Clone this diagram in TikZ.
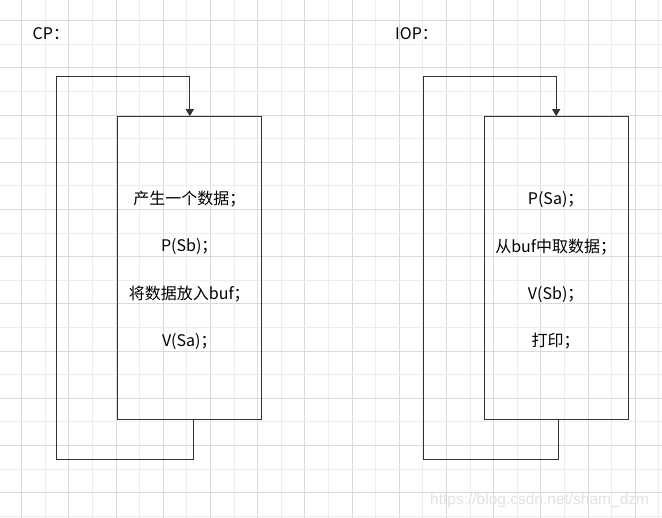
\documentclass[tikz,border=0pt]{standalone}
\usepackage{fontspec}
\setmainfont{Noto Sans CJK SC}
\newfontfamily\wmfont{Liberation Sans}
\usetikzlibrary{arrows.meta}
\definecolor{ink}{HTML}{333333}
\definecolor{gridA}{HTML}{DADADA}
\definecolor{gridB}{HTML}{EDEDED}
\definecolor{wm}{HTML}{E2E2E2}
\begin{document}
\begin{tikzpicture}[x=1pt,y=-1pt,
  procbox/.style={draw=ink,line width=1pt,minimum width=144pt,minimum height=303pt,inner sep=0pt,anchor=north west},
  txt/.style={font=\fontsize{16}{19}\selectfont,text=black,inner sep=0pt},
  flow/.style={draw=ink,line width=1pt,-{Triangle[width=8pt,length=7pt]}},
  gridmaj/.style={gridA,line width=0.9pt},
  gridmin/.style={gridB,line width=0.9pt}]
\useasboundingbox (0,0) rectangle (662,518);
\fill[white] (0,0) rectangle (662,518);
% grid
\foreach \i in {0,...,27}{
  \pgfmathsetmacro\gx{21.7+23.6*\i}
  \pgfmathtruncatemacro\gpar{mod(\i,2)}
  \ifnum\gpar=0 \draw[gridmaj] (\gx,0) -- (\gx,518); \else \draw[gridmin] (\gx,0) -- (\gx,518); \fi
}
\foreach \j in {0,...,21}{
  \pgfmathsetmacro\gy{20.7+23.6*\j}
  \pgfmathtruncatemacro\gpar{mod(\j,2)}
  \ifnum\gpar=0 \draw[gridmaj] (0,\gy) -- (662,\gy); \else \draw[gridmin] (0,\gy) -- (662,\gy); \fi
}
% titles
\node[txt,anchor=west] (cpt) at (32.5,34) {CP：};
\node[txt,anchor=west] (iopt) at (395,34) {IOP：};
% boxes
\node[procbox] (cp) at (117.3,116.2) {};
\node[procbox] (iop) at (483.7,116.2) {};
% texts in CP
\node[txt] (c1) at (189.3,199.5) {产生一个数据；};
\node[txt] (c2) at (189.3,247) {P(Sb)；};
\node[txt] (c3) at (189.3,294.5) {将数据放入buf；};
\node[txt] (c4) at (189.3,341.5) {V(Sa)；};
% texts in IOP
\node[txt] (i1) at (555.7,199.5) {P(Sa)；};
\node[txt] (i2) at (555.7,247) {从buf中取数据；};
\node[txt] (i3) at (555.7,294.5) {V(Sb)；};
\node[txt] (i4) at (555.7,341.5) {打印；};
% loops
\coordinate (cpOut) at ([xshift=3.4pt]cp.south);
\coordinate (cpBot) at (56.7,459.3);
\coordinate (cpTop) at (56.7,76.3);
\path[flow] (cpOut) |- (cpBot) -- (cpTop) -| (cp.north);
\coordinate (iopOut) at ([xshift=2.6pt]iop.south);
\coordinate (iopBot) at (423.3,459.3);
\coordinate (iopTop) at (423.3,76.3);
\path[flow] (iopOut) |- (iopBot) -- (iopTop) -| (iop.north);
% watermark
\node[anchor=west,inner sep=0pt,text=wm,font=\wmfont\fontsize{15.5}{18}\selectfont] (wmk) at (430,500.5) {https://blog.csdn.net/sham\_dzm};
\end{tikzpicture}
\end{document}
